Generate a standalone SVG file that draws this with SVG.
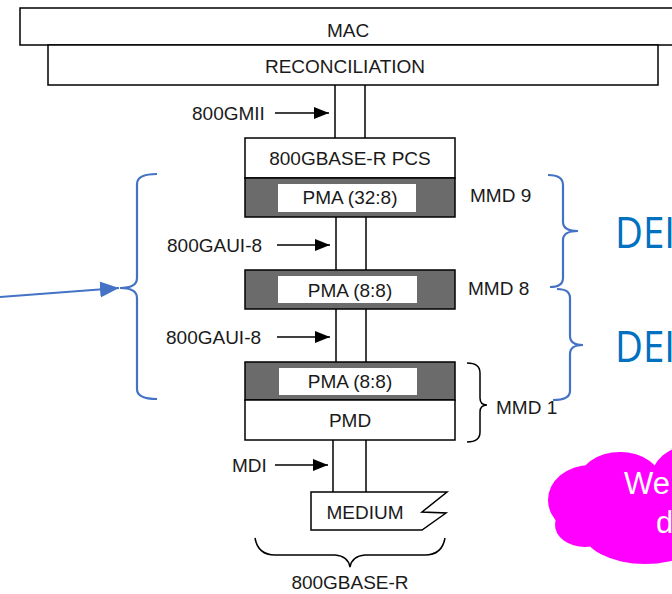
<svg xmlns="http://www.w3.org/2000/svg" width="672" height="594" viewBox="0 0 672 594">
<defs>
<style>
.box{fill:#fff;stroke:#000;stroke-width:1.5}
.gray{fill:#6b6b6b;stroke:#000;stroke-width:1.5}
.inner{fill:#fff;stroke:none}
.t{font-family:"Liberation Sans",Arial,sans-serif;font-size:19px;fill:#1a1a1a}
.c{text-anchor:middle}
.ln{stroke:#000;stroke-width:1.5;fill:none}
.blue{stroke:#4472C4;stroke-width:2.2;fill:none}
.dei{font-family:"Open Sans","Liberation Sans",sans-serif;font-size:44px;fill:#0070C0}
.cloudt{font-family:"Liberation Sans",Arial,sans-serif;font-size:31px;fill:#fff}
</style>
<marker id="ah" markerUnits="userSpaceOnUse" markerWidth="16" markerHeight="14" refX="15" refY="7" orient="auto">
<path d="M0,1 L15,7 L0,13 z" fill="#000"/>
</marker>
<marker id="bh" markerUnits="userSpaceOnUse" markerWidth="20" markerHeight="18" refX="19" refY="9" orient="auto">
<path d="M0,1 L19,9 L0,17 z" fill="#4472C4"/>
</marker>
</defs>
<rect width="672" height="594" fill="#fff"/>

<g id="connectors">
<line class="ln" x1="335" y1="85" x2="335" y2="138"/>
<line class="ln" x1="365" y1="85" x2="365" y2="138"/>
<line class="ln" x1="336" y1="217" x2="336" y2="270"/>
<line class="ln" x1="366" y1="217" x2="366" y2="270"/>
<line class="ln" x1="336" y1="309" x2="336" y2="362"/>
<line class="ln" x1="366" y1="309" x2="366" y2="362"/>
<line class="ln" x1="333" y1="440" x2="333" y2="492"/>
<line class="ln" x1="366" y1="440" x2="366" y2="492"/>
<line class="ln" x1="275" y1="113" x2="329" y2="113" marker-end="url(#ah)"/>
<line class="ln" x1="277" y1="245" x2="330" y2="245" marker-end="url(#ah)"/>
<line class="ln" x1="277" y1="337" x2="330" y2="337" marker-end="url(#ah)"/>
<line class="ln" x1="275" y1="465" x2="328" y2="465" marker-end="url(#ah)"/>
<line class="blue" x1="0" y1="297" x2="119" y2="288" marker-end="url(#bh)"/>
</g>

<g id="mac">
<rect class="box" x="20" y="8" width="665" height="37"/>
<text class="t c" x="348" y="37">MAC</text>
</g>
<g id="reconciliation">
<rect class="box" x="48" y="45" width="610" height="40"/>
<text class="t c" x="345" y="73">RECONCILIATION</text>
</g>
<g id="gmii">
<text class="t" x="192" y="120">800GMII</text>
</g>
<g id="pcs">
<rect class="box" x="245" y="138" width="210" height="40"/>
<text class="t c" x="350" y="165">800GBASE-R PCS</text>
</g>
<g id="pma1">
<rect class="gray" x="245" y="178" width="210" height="39"/>
<rect class="inner" x="278" y="184" width="138" height="28"/>
<text class="t c" x="350" y="204">PMA (32:8)</text>
<text class="t" x="470" y="202">MMD 9</text>
</g>
<g id="gaui1">
<text class="t" x="167" y="252">800GAUI-8</text>
</g>
<g id="pma2">
<rect class="gray" x="245" y="270" width="210" height="39"/>
<rect class="inner" x="278" y="276" width="139" height="27"/>
<text class="t c" x="350" y="297">PMA (8:8)</text>
<text class="t" x="468" y="295">MMD 8</text>
</g>
<g id="gaui2">
<text class="t" x="166" y="344">800GAUI-8</text>
</g>
<g id="pma3">
<rect class="gray" x="245" y="362" width="210" height="38"/>
<rect class="inner" x="279" y="368" width="138" height="27"/>
<text class="t c" x="350" y="388">PMA (8:8)</text>
</g>
<g id="pmd">
<rect class="box" x="245" y="400" width="210" height="40"/>
<text class="t c" x="350" y="427">PMD</text>
</g>
<g id="mmd1">
<path class="ln" d="M467 363 Q480 363 480 373 L480 398 Q480 405 487 405 Q480 405 480 412 L480 432 Q480 442 467 442"/>
<text class="t" x="496" y="414">MMD 1</text>
</g>
<g id="mdi">
<text class="t" x="232" y="472">MDI</text>
</g>
<g id="medium">
<path class="box" d="M311 492 L447 492 L422 512 L446 513 L422 530 L311 530 Z"/>
<text class="t c" x="365" y="519">MEDIUM</text>
</g>
<g id="base-r">
<path class="ln" d="M255 538 Q258 555 275 555 L335 555 Q348 556 350 567 Q352 556 365 555 L425 555 Q442 555 445 538"/>
<text class="t c" x="350" y="589">800GBASE-R</text>
</g>

<g id="left-brace">
<path class="blue" d="M157 174 Q137 174 137 184 L137 278 Q137 288 120 288 Q137 288 137 298 L137 389 Q137 399 157 399"/>
</g>
<g id="dei1">
<path class="blue" d="M548 175 Q563 175 563 185 L563 222 Q563 231 578 231 Q563 231 563 240 L563 278 Q563 287 550 287"/>
<text class="dei" x="615" y="248" textLength="60" lengthAdjust="spacingAndGlyphs">DEI</text>
</g>
<g id="dei2">
<path class="blue" d="M557 289 Q570 289 570 298 L570 336 Q570 345 583 345 Q570 345 570 354 L570 391 Q570 400 553 400"/>
<text class="dei" x="615" y="362" textLength="60" lengthAdjust="spacingAndGlyphs">DEI</text>
</g>

<g id="cloud">
<g fill="#FF00FF">
<ellipse cx="590" cy="500" rx="42" ry="35"/>
<ellipse cx="620" cy="483" rx="42" ry="31"/>
<ellipse cx="692" cy="482" rx="42" ry="37"/>
<ellipse cx="585" cy="525" rx="30" ry="22"/>
<ellipse cx="645" cy="531" rx="62" ry="33"/>
<rect x="590" y="470" width="90" height="70"/>
</g>
<text class="cloudt" x="624" y="494">We</text>
<text class="cloudt" x="656" y="533">d</text>
</g>
</svg>
